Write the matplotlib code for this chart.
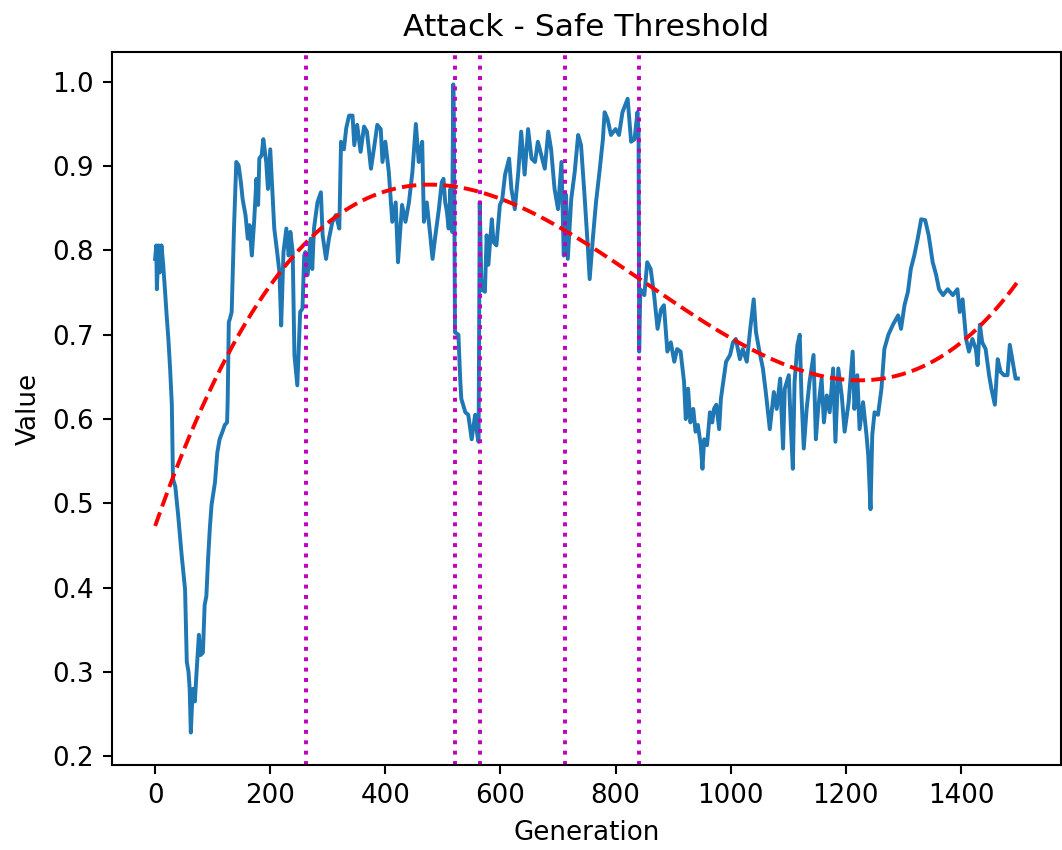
import numpy as np
import matplotlib
matplotlib.use("Agg")
import matplotlib.pyplot as plt

# Safe-threshold values recorded at selected generations
generation = [
    0, 2, 3, 6, 8, 11, 14, 17, 20, 23, 26, 29, 31, 35, 40, 46, 52, 55, 58, 60,
    62, 64, 66, 69, 72, 76, 79, 83, 86, 89, 92, 95, 98, 104, 108, 112, 117, 121, 125, 126,
    128, 130, 133, 137, 141, 145, 149, 152, 157, 161, 164, 168, 172, 176, 179, 181, 185, 188, 193, 196,
    200, 204, 207, 212, 216, 219, 223, 228, 232, 235, 239, 242, 247, 252, 256, 259, 261, 265, 270, 273,
    276, 282, 288, 291, 297, 302, 308, 314, 320, 323, 328, 332, 337, 343, 346, 351, 357, 363, 368, 375,
    380, 386, 392, 395, 400, 406, 412, 418, 422, 429, 435, 441, 447, 453, 458, 464, 467, 472, 478, 482,
    487, 493, 498, 501, 504, 507, 510, 513, 516, 518, 519, 521, 527, 530, 532, 539, 544, 550, 556, 560,
    562, 564, 567, 573, 576, 579, 585, 588, 593, 599, 603, 608, 615, 619, 625, 631, 636, 642, 648, 654,
    660, 665, 671, 677, 683, 688, 694, 700, 706, 710, 714, 717, 723, 729, 735, 740, 746, 752, 755, 761,
    766, 772, 778, 781, 786, 792, 800, 806, 812, 821, 827, 833, 838, 840, 841, 843, 850, 855, 861, 867,
    873, 879, 884, 890, 896, 902, 907, 913, 919, 922, 926, 930, 935, 939, 943, 948, 951, 954, 959, 964,
    968, 971, 975, 980, 983, 988, 992, 999, 1004, 1009, 1016, 1021, 1028, 1034, 1040, 1044, 1050, 1056, 1061, 1068,
    1075, 1080, 1086, 1091, 1094, 1101, 1104, 1108, 1111, 1116, 1120, 1123, 1127, 1132, 1137, 1144, 1148, 1152, 1158, 1162,
    1167, 1172, 1178, 1182, 1187, 1193, 1198, 1205, 1212, 1215, 1220, 1224, 1230, 1236, 1239, 1243, 1246, 1250, 1256, 1262,
    1267, 1274, 1282, 1291, 1296, 1302, 1308, 1313, 1319, 1325, 1331, 1338, 1344, 1351, 1357, 1362, 1369, 1377, 1386, 1394,
    1398, 1403, 1409, 1414, 1420, 1426, 1429, 1433, 1437, 1443, 1449, 1453, 1459, 1464, 1469, 1475, 1481, 1485, 1490, 1495,
    1499,
]
value = [
    0.790, 0.806, 0.754, 0.806, 0.774, 0.806, 0.783, 0.754, 0.723, 0.695, 0.660, 0.617, 0.529, 0.520, 0.486, 0.439, 0.398, 0.312, 0.300, 0.280,
    0.228, 0.260, 0.280, 0.265, 0.300, 0.344, 0.320, 0.323, 0.379, 0.390, 0.434, 0.470, 0.498, 0.525, 0.560, 0.576, 0.585, 0.593, 0.596, 0.620,
    0.715, 0.719, 0.727, 0.826, 0.905, 0.901, 0.881, 0.861, 0.842, 0.814, 0.830, 0.794, 0.834, 0.885, 0.854, 0.909, 0.913, 0.932, 0.905, 0.873,
    0.920, 0.866, 0.826, 0.798, 0.774, 0.711, 0.798, 0.826, 0.794, 0.822, 0.798, 0.676, 0.640, 0.727, 0.731, 0.794, 0.798, 0.771, 0.814, 0.778,
    0.826, 0.857, 0.869, 0.818, 0.790, 0.814, 0.834, 0.842, 0.826, 0.929, 0.920, 0.945, 0.960, 0.960, 0.925, 0.949, 0.917, 0.947, 0.941, 0.897,
    0.920, 0.949, 0.944, 0.905, 0.929, 0.893, 0.834, 0.857, 0.786, 0.854, 0.834, 0.857, 0.893, 0.950, 0.905, 0.929, 0.834, 0.857, 0.818, 0.790,
    0.818, 0.849, 0.881, 0.885, 0.857, 0.846, 0.826, 0.873, 0.822, 0.997, 0.960, 0.703, 0.700, 0.648, 0.624, 0.608, 0.605, 0.576, 0.605, 0.580,
    0.573, 0.857, 0.754, 0.751, 0.818, 0.783, 0.837, 0.810, 0.806, 0.854, 0.860, 0.890, 0.909, 0.873, 0.849, 0.893, 0.941, 0.890, 0.944, 0.909,
    0.905, 0.929, 0.913, 0.897, 0.941, 0.920, 0.873, 0.849, 0.905, 0.794, 0.866, 0.790, 0.861, 0.893, 0.937, 0.925, 0.866, 0.802, 0.766, 0.818,
    0.857, 0.893, 0.932, 0.964, 0.956, 0.937, 0.944, 0.937, 0.964, 0.980, 0.929, 0.932, 0.964, 0.940, 0.680, 0.754, 0.747, 0.786, 0.778, 0.747,
    0.707, 0.730, 0.735, 0.680, 0.691, 0.668, 0.683, 0.680, 0.644, 0.600, 0.636, 0.596, 0.612, 0.585, 0.593, 0.569, 0.541, 0.576, 0.569, 0.608,
    0.596, 0.612, 0.617, 0.588, 0.624, 0.648, 0.668, 0.676, 0.691, 0.695, 0.671, 0.683, 0.668, 0.707, 0.742, 0.703, 0.680, 0.660, 0.632, 0.588,
    0.632, 0.612, 0.648, 0.565, 0.636, 0.652, 0.600, 0.541, 0.644, 0.688, 0.700, 0.628, 0.565, 0.612, 0.644, 0.676, 0.576, 0.612, 0.648, 0.596,
    0.628, 0.608, 0.660, 0.573, 0.660, 0.628, 0.585, 0.620, 0.680, 0.612, 0.652, 0.588, 0.620, 0.581, 0.557, 0.493, 0.581, 0.608, 0.605, 0.636,
    0.683, 0.700, 0.712, 0.723, 0.707, 0.735, 0.751, 0.778, 0.794, 0.814, 0.837, 0.836, 0.818, 0.786, 0.771, 0.754, 0.747, 0.754, 0.747, 0.754,
    0.727, 0.742, 0.695, 0.680, 0.695, 0.683, 0.664, 0.712, 0.691, 0.683, 0.652, 0.636, 0.617, 0.671, 0.656, 0.652, 0.652, 0.688, 0.668, 0.648,
    0.648,
]

# Generations at which a threshold change was triggered
change_points = [262, 521, 564, 712, 840]

gen = np.asarray(generation, dtype=float)
val = np.asarray(value, dtype=float)

# Cubic trend fitted over every generation
all_gen = np.arange(0, 1500)
coef = np.polyfit(all_gen, np.interp(all_gen, gen, val), 3)
trend = np.polyval(coef, all_gen)

W, H, DPI = 1062, 850, 188
fig = plt.figure(figsize=(W / DPI, H / DPI), dpi=DPI)
left, right, top, bottom = 112, 1061, 52, 765
ax = fig.add_axes([left / W, 1 - bottom / H, (right - left) / W, (bottom - top) / H])

ax.plot(gen, val, color="#1f77b4", linewidth=1.5)
ax.plot(all_gen, trend, color="red", linestyle="--", linewidth=1.5)
for cp in change_points:
    ax.axvline(cp, color="m", linestyle=":", linewidth=1.5)

ax.set_title("Attack - Safe Threshold")
ax.set_xlabel("Generation")
ax.set_ylabel("Value")

fig.savefig("out.png", dpi=DPI)
